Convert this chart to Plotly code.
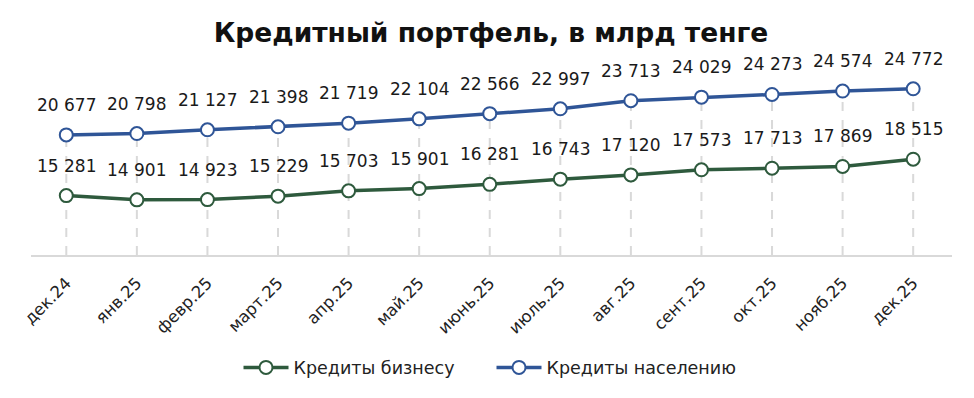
import plotly.graph_objects as go

months = ["дек.24", "янв.25", "февр.25", "март.25", "апр.25", "май.25", "июнь.25",
          "июль.25", "авг.25", "сент.25", "окт.25", "нояб.25", "дек.25"]
business = [15281, 14901, 14923, 15229, 15703, 15901, 16281, 16743, 17120, 17573, 17713, 17869, 18515]
population = [20677, 20798, 21127, 21398, 21719, 22104, 22566, 22997, 23713, 24029, 24273, 24574, 24772]

GREEN = "#2e5a3d"
BLUE = "#2f5597"
FONT = "DejaVu Sans"

def fmt(v):
    return f"{v:,}".replace(",", " ")

fig = go.Figure()
for name, vals, col in [("Кредиты бизнесу", business, GREEN), ("Кредиты населению", population, BLUE)]:
    fig.add_trace(go.Scatter(
        x=months, y=vals, name=name, mode="lines+markers",
        line=dict(color=col, width=3.5),
        marker=dict(size=13, color="white", line=dict(color=col, width=2)),
        hoverinfo="x+y",
    ))
    for m, v in zip(months, vals):
        fig.add_annotation(x=m, y=v, text=fmt(v), showarrow=False, yshift=30,
                           font=dict(family=FONT, size=17, color="#1a1a1a"))

for m, v in zip(months, population):
    fig.add_shape(type="line", x0=m, x1=m, y0=10000, y1=v, layer="below",
                  line=dict(color="#d9d9d9", width=2, dash="dash"))

W, H = 966, 390
fig.update_layout(
    width=W, height=H,
    margin=dict(l=23, r=22, t=22, b=143, autoexpand=False),
    paper_bgcolor="white", plot_bgcolor="white",
    title=dict(text="<b>Кредитный портфель, в млрд тенге</b>", x=0.5, xanchor="center",
               y=1 - 25 / H, yanchor="middle",
               font=dict(family=FONT, size=26.5, color="#111111")),
    showlegend=True,
    legend=dict(orientation="h", x=0.5, xanchor="center", y=-0.5, yanchor="middle",
                font=dict(family=FONT, size=17.5, color="#222222"), itemwidth=45,
                entrywidth=193, entrywidthmode="pixels"),
    xaxis=dict(type="category", range=[-0.5, 12.55], showgrid=False, automargin=False,
               showline=True, linecolor="#d9d9d9", linewidth=2,
               ticks="", tickangle=-45, ticklabelstandoff=10,
               tickfont=dict(family=FONT, size=16.5, color="#222222")),
    yaxis=dict(range=[10000, 30000], visible=False, showgrid=False, zeroline=False),
)

fig.write_html("out.html")
